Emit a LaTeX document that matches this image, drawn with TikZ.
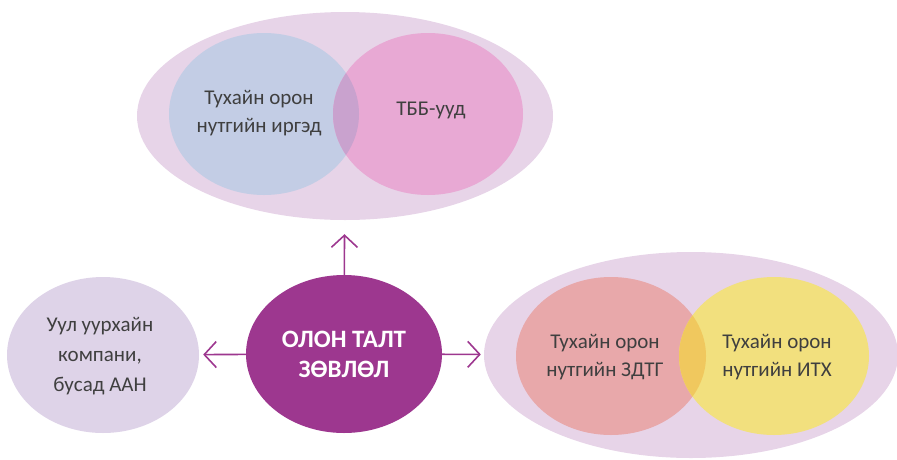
\documentclass[tikz,border=0pt]{standalone}
\usepackage{fontspec}
\setmainfont{Carlito}
\usetikzlibrary{shapes.geometric,arrows.meta}
\definecolor{lav}{HTML}{E7D4E8}
\definecolor{blueC}{HTML}{C3CDE5}
\definecolor{pinkC}{HTML}{E8A9D4}
\definecolor{mixBP}{HTML}{C9A2CE}
\definecolor{redC}{HTML}{E8A8AA}
\definecolor{yelC}{HTML}{F2E07E}
\definecolor{mixRY}{HTML}{F0C85E}
\definecolor{lilac}{HTML}{DED3E8}
\definecolor{mag}{HTML}{9D378F}
\definecolor{txt}{HTML}{3F3F3F}
\begin{document}
\begin{tikzpicture}[x=1pt,y=-1pt,
  blob/.style={ellipse, inner sep=0pt},
  lbl/.style={text=txt, font=\fontsize{21}{28}\selectfont, align=center},
  link/.style={draw=mag, line width=1.6pt, -{Straight Barb[length=12pt,width=26pt]}}]
\useasboundingbox (0,0) rectangle (897,459);
% top group
\node[blob, fill=lav, minimum width=416pt, minimum height=208pt] (top) at (345,116) {};
\node[blob, fill=blueC, minimum width=190pt, minimum height=162pt] (cit) at (264,114) {};
\node[blob, fill=pinkC, minimum width=190pt, minimum height=162pt] (ngo) at (428,114) {};
\begin{scope}
  \clip (264,114) ellipse [x radius=95pt, y radius=81pt];
  \fill[mixBP] (428,114) ellipse [x radius=95pt, y radius=81pt];
\end{scope}
\node[lbl] (citT) at (259,113) {Тухайн орон\\нутгийн иргэд};
\node[lbl] (ngoT) at (431,110) {ТББ-ууд};
% right group
\node[blob, fill=lav, minimum width=414pt, minimum height=206pt] (right) at (691,355) {};
\node[blob, fill=redC, minimum width=190pt, minimum height=158pt] (gov) at (611,356) {};
\node[blob, fill=yelC, minimum width=190pt, minimum height=158pt] (itx) at (774,356) {};
\begin{scope}
  \clip (611,356) ellipse [x radius=95pt, y radius=79pt];
  \fill[mixRY] (774,356) ellipse [x radius=95pt, y radius=79pt];
\end{scope}
\node[lbl] (govT) at (605,357) {Тухайн орон\\нутгийн ЗДТГ};
\node[lbl] (itxT) at (777,357) {Тухайн орон\\нутгийн ИТХ};
% left
\node[blob, fill=lilac, minimum width=192pt, minimum height=156pt] (mine) at (103,355) {};
\node[lbl, font=\fontsize{21}{30}\selectfont] (mineT) at (100,356) {Уул уурхайн\\компани,\\бусад ААН};
% center
\node[blob, fill=mag, minimum width=196pt, minimum height=158pt, text=white,
  font=\bfseries\fontsize{25}{30}\selectfont, align=center] (mid) at (344,354) {ОЛОН ТАЛТ\\ЗӨВЛӨЛ};
% arrows
\draw[link, shorten >=14pt] (mid) -- (top);
\draw[link, shorten >=4pt] (mid) -- (mine);
\draw[link, shorten >=3pt] (mid) -- (right);
\end{tikzpicture}
\end{document}
